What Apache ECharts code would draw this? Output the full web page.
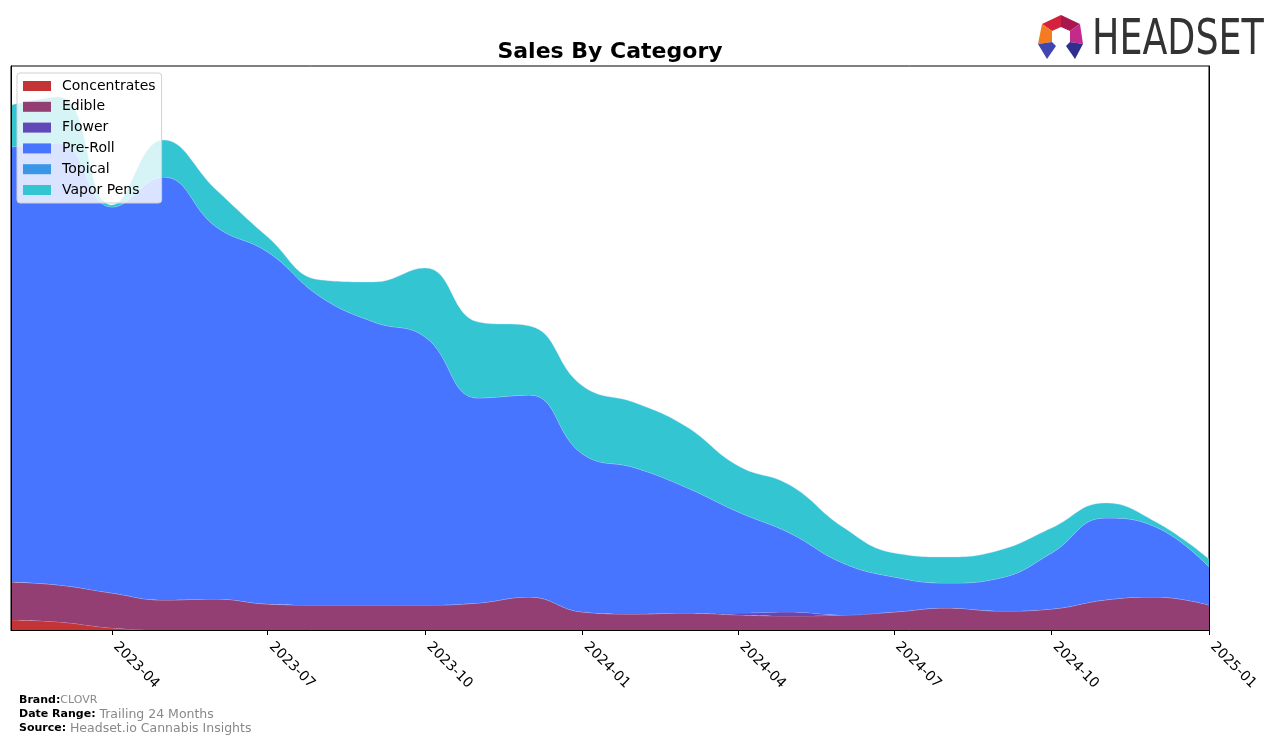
<!DOCTYPE html>
<html>
<head>
<meta charset="utf-8">
<script src="https://cdn.jsdelivr.net/npm/echarts@6/dist/echarts.min.js"></script>
<style>
html,body{margin:0;padding:0;background:#fff;}
#chart{width:1276px;height:743px;}
</style>
</head>
<body>
<div id="chart"></div>
<script>
// Months (first day of month)
const months = ['2023-02','2023-03','2023-04','2023-05','2023-06','2023-07','2023-08','2023-09','2023-10','2023-11','2023-12',
  '2024-01','2024-02','2024-03','2024-04','2024-05','2024-06','2024-07','2024-08','2024-09','2024-10','2024-11','2024-12','2025-01'];
const tickLabels = ['2023-04','2023-07','2023-10','2024-01','2024-04','2024-07','2024-10','2025-01'];
const seriesNames = ['Concentrates','Edible','Flower','Pre-Roll','Topical','Vapor Pens'];
const concentrates = [10,8,2,0,0,0,0,0,0,0,0,0,0,0,0,0,0,0,0,0,0,0,0,0];
const edible = [38,37,35,30,31,26,25,25,25,27,33,18,16,17,15,14,15,18,22,19,21,30,33,25];
const flower = [0,0,0,0,0,0,0,0,0,0,0,0,0,0,2,4,0,0,0,0,0,0,0,0];
const preRoll = [435,442,386,423,372,352,308,283,268,205,202,158,146,126,101,79,52,35,25,33,56,82,70,38];
const topical = [0,0,0,0,0,0,0,0,0,0,0,0,0,0,0,0,0,0,0,0,0,0,0,0];
const vaporPens = [42,46,2,37,37,15,17,40,69,76,69,68,65,61,46,48,36,24,26,28,25,15,5,8];
const colors = ['#c43434','#943f74','#6247b8','#4775ff','#3a97e8','#34c5d3'];

function ts(m){ const p = m.split('-'); return Date.UTC(+p[0], +p[1]-1, 1); }
const values = [concentrates, edible, flower, preRoll, topical, vaporPens];
const series = seriesNames.map((name, i) => ({
  name: name,
  type: 'line',
  stack: 'total',
  smooth: 0.45,
  symbol: 'none',
  z: 2 + i,
  xAxisIndex: 0,
  lineStyle: { width: 0.6, color: 'rgba(210,220,255,0.55)' },
  itemStyle: { color: colors[i] },
  areaStyle: { color: colors[i], opacity: 1 },
  data: months.map((m, j) => [ts(m), values[i][j]])
}));

const chart = echarts.init(document.getElementById('chart'), null, {renderer: 'canvas'});
const font = 'DejaVu Sans';
const xMin = ts(months[0]), xMax = ts(months[months.length - 1]);
chart.setOption({
  animation: false,
  backgroundColor: '#fff',
  title: {
    text: 'Sales By Category',
    left: 605, top: 36, textAlign: 'center',
    textStyle: { fontFamily: font, fontSize: 22, fontWeight: 'bold', color: '#000' }
  },
  grid: { left: 11, right: 67, top: 66, bottom: 113, show: true, borderColor: '#000', borderWidth: 1, backgroundColor: 'transparent' },
  legend: {
    orient: 'vertical', left: 17, top: 73,
    data: seriesNames,
    icon: 'rect', itemWidth: 28, itemHeight: 10, itemGap: 6.8,
    padding: [6, 6, 6, 6],
    backgroundColor: 'rgba(255,255,255,0.8)', borderColor: '#d0d0d0', borderWidth: 1, borderRadius: 3,
    textStyle: { fontFamily: font, fontSize: 14, color: '#000', padding: [0, 0, 0, 6] },
    z: 20
  },
  xAxis: [
    {
      type: 'time', min: xMin, max: xMax,
      axisLine: { show: false }, axisTick: { show: false }, axisLabel: { show: false }, splitLine: { show: false }
    },
    {
      type: 'value', min: xMin, max: xMax, position: 'bottom',
      z: 10,
      axisLine: { show: true, onZero: false, lineStyle: { color: '#000', width: 1 } },
      axisTick: { show: true, length: 5, lineStyle: { color: '#000' }, customValues: tickLabels.map(ts) },
      axisLabel: {
        customValues: tickLabels.map(ts),
        rotate: -45, margin: 11, padding: [0, 0, 0, 5],
        fontFamily: font, fontSize: 14, color: '#000',
        formatter: function (v) { const d = new Date(v); return d.getUTCFullYear() + '-' + String(d.getUTCMonth() + 1).padStart(2, '0'); }
      },
      splitLine: { show: false }
    }
  ],
  yAxis: [
    { type: 'value', min: 0, max: 564, z: 10, axisLine: { show: true, lineStyle: { color: '#000' } }, axisTick: { show: false }, axisLabel: { show: false }, splitLine: { show: false } },
    { type: 'value', min: 0, max: 564, position: 'right', z: 10, axisLine: { show: true, onZero: false, lineStyle: { color: '#000' } }, axisTick: { show: false }, axisLabel: { show: false }, splitLine: { show: false } }
  ],
  series: series,
  graphic: [
    { type: 'text', left: 19, top: 695, style: { text: '{b|Brand:}{g|CLOVR}', rich: { b: { fontFamily: font, fontSize: 11, fontWeight: 'bold', fill: '#000' }, g: { fontFamily: font, fontSize: 11, fill: '#888' } } } },
    { type: 'text', left: 19, top: 708, style: { text: '{b|Date Range: }{g|Trailing 24 Months}', rich: { b: { fontFamily: font, fontSize: 11, fontWeight: 'bold', fill: '#000' }, g: { fontFamily: font, fontSize: 12.5, fill: '#888' } } } },
    { type: 'text', left: 19, top: 722, style: { text: '{b|Source: }{g|Headset.io Cannabis Insights}', rich: { b: { fontFamily: font, fontSize: 11, fontWeight: 'bold', fill: '#000' }, g: { fontFamily: font, fontSize: 12.5, fill: '#888' } } } },
    { type: 'polygon', shape: { points: [[1042,24],[1061,15],[1061,27],[1052,31]] }, style: { fill: '#d4213d' } },
    { type: 'polygon', shape: { points: [[1061,15],[1080,24],[1070,31],[1061,27]] }, style: { fill: '#a8184f' } },
    { type: 'polygon', shape: { points: [[1042,24],[1052,31],[1052,42],[1038,44]] }, style: { fill: '#f47b20' } },
    { type: 'polygon', shape: { points: [[1080,24],[1083,44],[1070,42],[1070,31]] }, style: { fill: '#c42a8c' } },
    { type: 'polygon', shape: { points: [[1038,44],[1052,42],[1056,46],[1047,59]] }, style: { fill: '#4046b0' } },
    { type: 'polygon', shape: { points: [[1083,44],[1070,42],[1066,46],[1075,59]] }, style: { fill: '#2e2f8f' } },
    { type: 'text', x: 1092, y: 16, scaleX: 0.81, style: { text: 'HEADSET', fontFamily: 'Liberation Sans Narrow, DejaVu Sans Condensed, sans-serif', fontSize: 50, fill: '#333' } }
  ]
});
</script>
</body>
</html>
